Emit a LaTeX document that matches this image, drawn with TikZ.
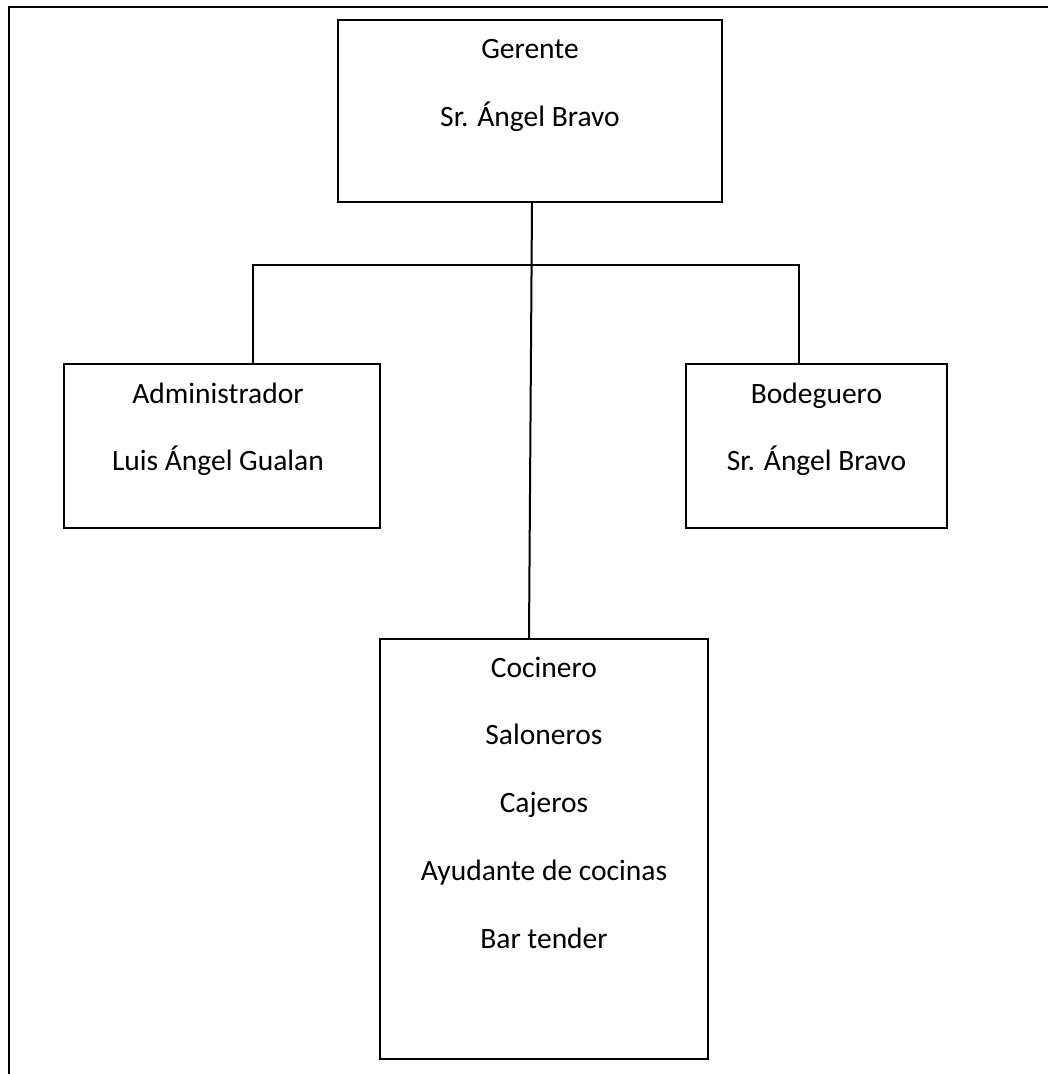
\documentclass[tikz,border=0pt]{standalone}
\usepackage{fontspec}
\setmainfont{Carlito}
\usetikzlibrary{calc}
\begin{document}
\begin{tikzpicture}[x=1pt,y=1pt,
  box/.style={draw=black, line width=2pt, inner sep=0pt, anchor=north west},
  txt/.style={anchor=base, inner sep=0pt, font=\fontsize{29.5}{34}\selectfont},
  link/.style={draw=black, line width=2pt}]
  \useasboundingbox (0,0) rectangle (1048,-1074);
  \clip (0,0) rectangle (1048,-1074);

  % outer page frame
  \draw[line width=2pt] (9,-1100) -- (9,-7) -- (1100,-7);

  % boxes
  \node[box, minimum width=384, minimum height=182] (ger) at (337,-19) {};
  \node[box, minimum width=316, minimum height=164] (adm) at (63,-363) {};
  \node[box, minimum width=261, minimum height=164] (bod) at (685,-363) {};
  \node[box, minimum width=328, minimum height=420] (coc) at (379,-638) {};

  % labels
  \node[txt] (ger1) at ($(ger.north)+(0,-39)$) {Gerente};
  \node[txt] (ger2) at ($(ger.north)+(0,-107)$) {Sr. Ángel Bravo};
  \node[txt] (adm1) at ($(adm.north)+(-4,-40)$) {Administrador};
  \node[txt] (adm2) at ($(adm.north)+(-4,-107)$) {Luis Ángel Gualan};
  \node[txt] (bod1) at ($(bod.north)+(0,-40)$) {Bodeguero};
  \node[txt] (bod2) at ($(bod.north)+(0,-107)$) {Sr. Ángel Bravo};
  \node[txt] (coc1) at ($(coc.north)+(0,-39)$) {Cocinero};
  \node[txt] (coc2) at ($(coc.north)+(0,-106)$) {Saloneros};
  \node[txt] (coc3) at ($(coc.north)+(0,-174)$) {Cajeros};
  \node[txt] (coc4) at ($(coc.north)+(0,-242)$) {Ayudante de cocinas};
  \node[txt] (coc5) at ($(coc.north)+(0,-310)$) {Bar tender};

  % connectors
  \coordinate (jl) at (253,-265);
  \coordinate (jr) at (799,-265);
  \draw[link] ($(ger.south)+(2,0)$) -- ($(coc.north)+(-15,0)$);
  \draw[link] (adm.north -| jl) -- (jl) -- (jr) -- (bod.north -| jr);
\end{tikzpicture}
\end{document}
